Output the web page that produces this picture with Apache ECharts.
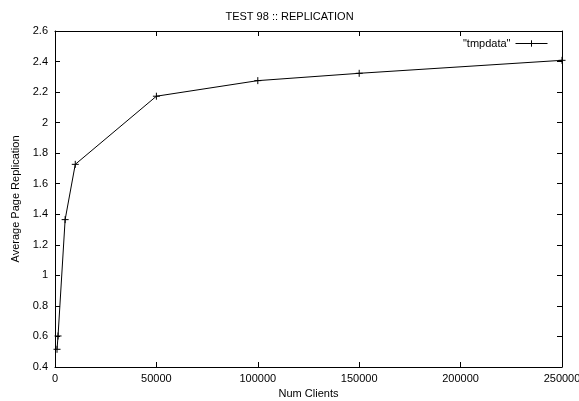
<!DOCTYPE html>
<html>
<head>
<meta charset="utf-8">
<script src="https://cdn.jsdelivr.net/npm/echarts@6/dist/echarts.min.js"></script>
<style>
  html, body { margin: 0; padding: 0; background: #fff; }
  #chart { width: 579px; height: 401px; }
</style>
</head>
<body>
<div id="chart"></div>
<script>
// Replication measurements: clients vs average page replication
var numClients = [1000, 1500, 5000, 10000, 50000, 100000, 150000, 250000];
var avgReplication = [0.516, 0.603, 1.365, 1.727, 2.173, 2.275, 2.323, 2.408];
var seriesName = '"tmpdata"';

var FONT = 'Liberation Sans';
var plus = 'path://M0,5L10,5M5,0L5,10';

var points = numClients.map(function (c, i) { return [c, avgReplication[i]]; });

var xCommon = {
  type: 'value', min: 0, max: 250000, interval: 50000,
  axisLine: { show: true, onZero: false, lineStyle: { color: '#000', width: 1 } },
  axisTick: { show: true, inside: true, length: 5, lineStyle: { color: '#000' } },
  splitLine: { show: false }
};
var yCommon = {
  type: 'value', min: 0.4, max: 2.6, interval: 0.2,
  axisLine: { show: true, onZero: false, lineStyle: { color: '#000', width: 1 } },
  axisTick: { show: true, inside: true, length: 5, lineStyle: { color: '#000' } },
  splitLine: { show: false }
};

var chart = echarts.init(document.getElementById('chart'), null, { renderer: 'canvas' });
chart.setOption({
  animation: false,
  backgroundColor: '#fff',
  textStyle: { fontFamily: FONT },
  title: {
    text: 'TEST 98 :: REPLICATION',
    left: 'center', top: 6,
    textStyle: { fontFamily: FONT, fontSize: 11, fontWeight: 'normal', color: '#000' }
  },
  legend: {
    right: 26, top: 33,
    align: 'right',
    itemWidth: 32, itemHeight: 8, itemGap: 6,
    lineStyle: { width: 1, color: '#000' },
    itemStyle: { color: '#000', borderColor: '#000', borderWidth: 1 },
    textStyle: { fontFamily: FONT, fontSize: 11, color: '#000', padding: [0, 0, 0, 0] },
    data: [seriesName]
  },
  grid: { left: 55, right: 17, top: 31, bottom: 34, outerBoundsMode: 'none' },
  xAxis: [
    Object.assign({}, xCommon, {
      position: 'bottom',
      name: 'Num Clients', nameLocation: 'middle', nameGap: 21,
      nameTextStyle: { fontFamily: FONT, fontSize: 11, color: '#000' },
      axisLabel: { color: '#000', fontFamily: FONT, fontSize: 11, margin: 6,
        formatter: function (v) { return String(v); } }
    }),
    Object.assign({}, xCommon, { position: 'top', axisLabel: { show: false } })
  ],
  yAxis: [
    Object.assign({}, yCommon, {
      position: 'left',
      name: 'Average Page Replication', nameLocation: 'middle', nameGap: 34,
      nameTextStyle: { fontFamily: FONT, fontSize: 11, color: '#000' },
      axisLabel: { color: '#000', fontFamily: FONT, fontSize: 11, margin: 7,
        formatter: function (v) { return String(Math.round(v * 10) / 10); } }
    }),
    Object.assign({}, yCommon, { position: 'right', axisLabel: { show: false } })
  ],
  series: [{
    name: seriesName,
    type: 'line',
    data: points,
    symbol: plus,
    symbolSize: 7,
    showAllSymbol: true,
    lineStyle: { color: '#000', width: 1 },
    itemStyle: { color: '#000', borderColor: '#000', borderWidth: 1 },
    emphasis: { disabled: true }
  }]
});
</script>
</body>
</html>
